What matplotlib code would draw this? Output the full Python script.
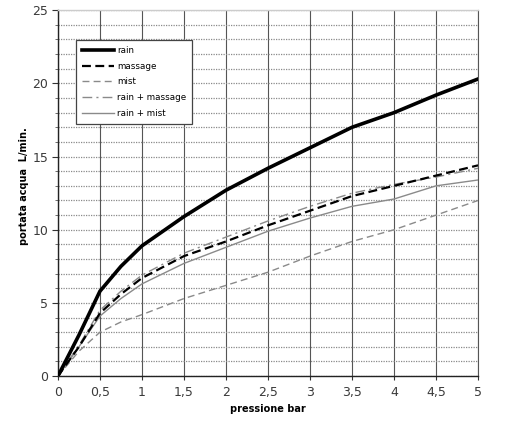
import matplotlib
matplotlib.use("Agg")
import matplotlib.pyplot as plt
from matplotlib.ticker import MultipleLocator, FuncFormatter

# pressure (bar) and flow (L/min)
pressione = [0, 0.25, 0.5, 0.75, 1, 1.5, 2, 2.5, 3, 3.5, 4, 4.5, 5]
rain = [0, 2.8, 5.8, 7.5, 8.9, 10.9, 12.7, 14.2, 15.6, 17.0, 18.0, 19.2, 20.3]
massage = [0, 2.0, 4.3, 5.6, 6.7, 8.2, 9.2, 10.3, 11.3, 12.3, 13.0, 13.7, 14.4]
mist = [0, 1.7, 3.0, 3.7, 4.2, 5.3, 6.2, 7.1, 8.2, 9.2, 10.0, 11.0, 12.0]
rain_massage = [0, 2.1, 4.5, 5.8, 6.9, 8.4, 9.5, 10.6, 11.6, 12.5, 13.1, 13.6, 14.2]
rain_mist = [0, 2.0, 4.1, 5.3, 6.3, 7.7, 8.8, 9.9, 10.8, 11.6, 12.1, 13.0, 13.4]

fig = plt.figure(figsize=(5.08, 4.25), dpi=100)
ax = fig.add_axes([0.114, 0.115, 0.827, 0.861])

ax.plot(pressione, rain, color="black", lw=2.6, label="rain", zorder=5)
ax.plot(pressione, massage, color="black", lw=1.6, dashes=(4, 2), label="massage", zorder=5)
ax.plot(pressione, mist, color="#8a8a8a", lw=1.0, dashes=(5, 3), label="mist", zorder=4)
ax.plot(pressione, rain_massage, color="#8a8a8a", lw=1.0, dashes=(7, 3, 1.5, 3),
        label="rain + massage", zorder=4)
ax.plot(pressione, rain_mist, color="#8a8a8a", lw=1.0, label="rain + mist", zorder=4)

ax.set_xlim(0, 5)
ax.set_ylim(0, 25)
ax.xaxis.set_major_locator(MultipleLocator(0.5))
ax.yaxis.set_major_locator(MultipleLocator(5))
ax.yaxis.set_minor_locator(MultipleLocator(1))
ax.xaxis.set_major_formatter(FuncFormatter(lambda v, p: f"{v:g}".replace(".", ",")))

# grid: solid verticals every 0.5, dotted horizontals every 1
ax.grid(axis="x", which="major", color="#555555", lw=0.8, ls="-")
ax.grid(axis="y", which="both", color="#8a8a8a", lw=0.9, ls=(0, (1, 1)))
ax.set_axisbelow(True)

ax.tick_params(axis="both", which="major", labelsize=9, labelcolor="#3a3a3a",
               length=4, width=0.8, color="#333333", direction="out")
ax.tick_params(axis="y", which="minor", length=2, width=0.6, color="#555555")
ax.tick_params(axis="y", which="major", pad=3)
ax.tick_params(axis="x", which="major", length=3, pad=4)

for side in ["left", "bottom"]:
    ax.spines[side].set_color("#222222")
    ax.spines[side].set_linewidth(1.0)
ax.spines["top"].set_color("#cccccc")
ax.spines["top"].set_linewidth(1.0)
ax.spines["right"].set_color("#555555")
ax.spines["right"].set_linewidth(0.8)

ax.set_xlabel("pressione bar", fontsize=7, fontweight="bold", labelpad=4)
ax.set_ylabel("portata acqua  L/min.", fontsize=7, fontweight="bold")
ax.yaxis.set_label_coords(-0.068, 0.52)

leg = ax.legend(loc="upper left", bbox_to_anchor=(0.043, 0.918), fontsize=6.3,
                frameon=True, fancybox=False, edgecolor="#444444",
                handlelength=3.6, labelspacing=0.75, borderpad=0.7,
                handletextpad=0.4, borderaxespad=0)
leg.get_frame().set_linewidth(0.9)
leg.get_frame().set_alpha(1)

fig.savefig("out.png", dpi=100, facecolor="white")
